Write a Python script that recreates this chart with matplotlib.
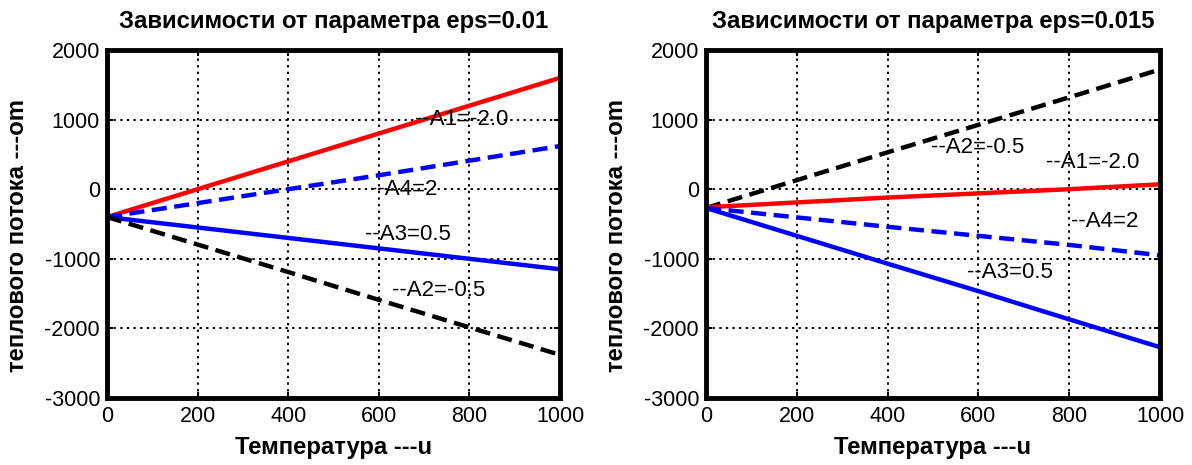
import matplotlib
matplotlib.use("Agg")
import matplotlib.pyplot as plt

plt.rcParams['font.family'] = ['Liberation Sans', 'DejaVu Sans']
plt.rcParams['axes.unicode_minus'] = False

# ---- data ----
temperature = [0, 200, 400, 600, 800, 1000]

# eps = 0.01
e1_A1 = [-400, 0, 400, 800, 1200, 1600]
e1_A4 = [-400, -200, 0, 200, 410, 620]
e1_A3 = [-400, -550, -700, -850, -1000, -1150]
e1_A2 = [-400, -795, -1190, -1590, -1985, -2380]

# eps = 0.015
e2_A2 = [-270, 130, 530, 925, 1320, 1720]
e2_A1 = [-260, -190, -120, -60, 0, 70]
e2_A4 = [-270, -405, -540, -670, -800, -950]
e2_A3 = [-270, -670, -1070, -1465, -1870, -2270]

titles = ["Зависимости от параметра eps=0.01", "Зависимости от параметра eps=0.015"]
xlabel = "Температура ---u"
ylabel = "теплового потока ---om"
xticks = [0, 200, 400, 600, 800, 1000]
yticks = [-3000, -2000, -1000, 0, 1000, 2000]

labels1 = [("--A1=-2.0", 680, 1000), ("--A4=2", 580, 0),
           ("--A3=0.5", 570, -650), ("--A2=-0.5", 630, -1450)]
labels2 = [("--A2=-0.5", 495, 600), ("--A1=-2.0", 748, 380),
           ("--A4=2", 805, -470), ("--A3=0.5", 575, -1200)]

W, H = 1192, 465
fig = plt.figure(figsize=(W / 100, H / 100), dpi=100)

def px_axes(l, t, r, b):
    return fig.add_axes([l / W, (H - b) / H, (r - l) / W, (b - t) / H])

ax1 = px_axes(107, 50, 560, 398)
ax2 = px_axes(706, 50, 1160, 398)

lw = 3.2
dash = (0, (3.4, 1.7))

ax1.plot(temperature, e1_A1, color='#ff0000', lw=lw, solid_capstyle='butt')
ax1.plot(temperature, e1_A4, color='#0000ff', lw=lw, linestyle=dash)
ax1.plot(temperature, e1_A3, color='#0000ff', lw=lw, solid_capstyle='butt')
ax1.plot(temperature, e1_A2, color='black', lw=lw, linestyle=dash)

ax2.plot(temperature, e2_A2, color='black', lw=lw, linestyle=dash)
ax2.plot(temperature, e2_A1, color='#ff0000', lw=lw, solid_capstyle='butt')
ax2.plot(temperature, e2_A4, color='#0000ff', lw=lw, linestyle=dash)
ax2.plot(temperature, e2_A3, color='#0000ff', lw=lw, solid_capstyle='butt')

tick_fs = 15.5
ann_fs = 16
lab_fs = 17.2
for ax, title, labels in ((ax1, titles[0], labels1), (ax2, titles[1], labels2)):
    ax.set_xlim(0, 1000)
    ax.set_ylim(-3000, 2000)
    ax.set_xticks(xticks)
    ax.set_yticks(yticks)
    ax.grid(True, color='black', linestyle=(0, (1.2, 2.2)), linewidth=1.4)
    ax.set_axisbelow(True)
    for s in ax.spines.values():
        s.set_linewidth(3.5)
        s.set_color('black')
    ax.tick_params(direction='in', length=4, width=1.5, top=True, right=True,
                   labelsize=tick_fs)
    ax.tick_params(axis='y', pad=5)
    ax.tick_params(axis='x', pad=6)
    ax.set_title(title, fontsize=lab_fs, fontweight='bold', pad=16)
    ax.set_xlabel(xlabel, fontsize=lab_fs, fontweight='bold', labelpad=6)
    ax.set_ylabel(ylabel, fontsize=lab_fs, fontweight='bold')
    ax.yaxis.set_label_coords(-0.172, 0.468)
    for txt, x, y in labels:
        ax.text(x, y, txt, fontsize=ann_fs, va='center', ha='left')

fig.savefig("out.png", dpi=100)
